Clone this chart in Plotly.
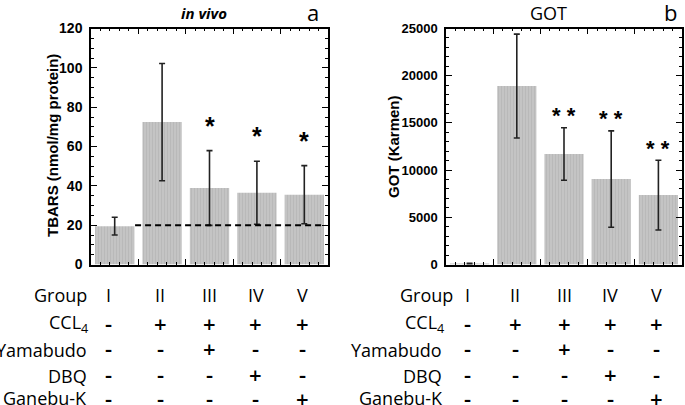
import plotly.graph_objects as go

# ---------------- data ----------------
groups = ["I", "II", "III", "IV", "V"]
tbars = [19.5, 72.4, 38.9, 36.5, 35.5]
tbars_err = [4.5, 29.8, 19.0, 16.0, 14.8]
tbars_sig = ["", "", "*", "*", "*"]
control_level = 20

got = [80, 18900, 11700, 9050, 7350]
got_err = [60, 5500, 2780, 5100, 3700]
got_sig = ["", "", "* *", "* *", "* *"]

row_labels = ["Group", "CCL<sub>4</sub>", "Yamabudo", "DBQ", "Ganebu-K"]
ccl4 = ["-", "+", "+", "+", "+"]
yamabudo = ["-", "-", "+", "-", "-"]
dbq = ["-", "-", "-", "+", "-"]
ganebu = ["-", "-", "-", "-", "+"]

W, H = 685, 405
xpos = list(range(len(groups)))

def px(x):
    return x / W

def py(y):
    return (H - y) / H

BAR = "#c4c4c4"
ERR = "#222222"

fig = go.Figure()

bar_style = dict(
    width=0.83,
    marker=dict(color=BAR, line=dict(width=0),
                pattern=dict(shape="|", fgcolor="#b6b6b6", bgcolor=BAR, size=3, solidity=0.25)),
    showlegend=False,
)

fig.add_trace(go.Bar(x=xpos, y=tbars, xaxis="x", yaxis="y",
                     error_y=dict(type="data", array=tbars_err, color=ERR, thickness=1.6, width=3),
                     **bar_style))
fig.add_trace(go.Bar(x=xpos, y=got, xaxis="x2", yaxis="y2",
                     error_y=dict(type="data", array=got_err, color=ERR, thickness=1.6, width=3),
                     **bar_style))

xdom1 = [px(91), px(328)]
xdom2 = [px(446), px(682)]
ydom = [py(264.5), py(28.5)]

xcommon = dict(range=[-0.5, 4.5], showline=True, linecolor="black", linewidth=1.5, mirror="ticks",
               ticks="inside", tickmode="array", tickvals=[0.5, 1.5, 2.5, 3.5], ticklen=6,
               tickwidth=1.2, tickcolor="black", showticklabels=False, showgrid=False, zeroline=False,
               minor=dict(ticks="inside", ticklen=3, tickmode="linear", tick0=-0.5, dtick=0.2,
                          tickcolor="black", tickwidth=1, showgrid=False),
               fixedrange=True, automargin=False)

ycommon = dict(showline=True, linecolor="black", linewidth=1.5, mirror="ticks", ticks="inside",
               ticklen=6, tickwidth=1.2, tickcolor="black", showgrid=False, zeroline=False,
               ticklabelstandoff=4, tickformat="d", fixedrange=True, automargin=False)

fig.update_layout(
    template="none",
    width=W, height=H, autosize=False,
    margin=dict(l=0, r=0, t=0, b=0, pad=0, autoexpand=False),
    paper_bgcolor="white", plot_bgcolor="white",
    bargap=0.17,
    showlegend=False,
    xaxis=dict(domain=xdom1, anchor="y", **xcommon),
    xaxis2=dict(domain=xdom2, anchor="y2", **xcommon),
    yaxis=dict(domain=ydom, anchor="x", range=[0, 120], tickmode="linear", tick0=0, dtick=20,
               tickfont=dict(family="Arial, Liberation Sans", size=14, color="black", weight="bold"),
               minor=dict(ticks="inside", ticklen=3, tickmode="linear", tick0=0, dtick=5,
                          tickcolor="black", tickwidth=1, showgrid=False),
               **ycommon),
    yaxis2=dict(domain=ydom, anchor="x2", range=[0, 25000], tickmode="linear", tick0=0, dtick=5000,
                tickfont=dict(family="Arial, Liberation Sans", size=13, color="black", weight="bold"),
                minor=dict(ticks="inside", ticklen=3, tickmode="linear", tick0=0, dtick=1000,
                           tickcolor="black", tickwidth=1, showgrid=False),
                **ycommon),
)

# dashed control line
fig.add_shape(type="line", xref="x", yref="y", x0=0.43, x1=4.44, y0=control_level, y1=control_level,
              line=dict(color="black", width=2, dash="6px,4px"))

ann = []
# significance marks
for i, s in enumerate(tbars_sig):
    if s:
        ann.append(dict(x=xpos[i], y=tbars[i] + tbars_err[i], xref="x", yref="y", text=s,
                        showarrow=False, xanchor="center", yanchor="middle", yshift=25,
                        font=dict(family="Arial, Liberation Sans", size=25, color="black", weight="bold")))
for i, s in enumerate(got_sig):
    if s:
        ann.append(dict(x=xpos[i], y=got[i] + got_err[i], xref="x2", yref="y2", text=s,
                        showarrow=False, xanchor="center", yanchor="middle", yshift=12,
                        font=dict(family="Arial, Liberation Sans", size=22, color="black", weight="bold")))

# axis titles
ann.append(dict(x=px(52), y=py(146), xref="paper", yref="paper", text="TBARS (nmol/mg protein)",
                textangle=-90, showarrow=False, xanchor="center", yanchor="middle",
                font=dict(family="Arial, Liberation Sans", size=15, color="black", weight="bold")))
ann.append(dict(x=px(393), y=py(147), xref="paper", yref="paper", text="GOT (Karmen)",
                textangle=-90, showarrow=False, xanchor="center", yanchor="middle",
                font=dict(family="Arial, Liberation Sans", size=15, color="black", weight="bold")))

# panel titles
ann.append(dict(x=px(204), y=py(12.5), xref="paper", yref="paper", text="in vivo", showarrow=False,
                xanchor="center", yanchor="middle",
                font=dict(family="Open Sans", size=15, color="black", weight="bold", style="italic")))
ann.append(dict(x=px(313), y=py(12), xref="paper", yref="paper", text="a", showarrow=False,
                xanchor="center", yanchor="middle", font=dict(family="Open Sans", size=22, color="black")))
ann.append(dict(x=px(548), y=py(13), xref="paper", yref="paper", text="GOT", showarrow=False,
                xanchor="center", yanchor="middle", font=dict(family="Open Sans", size=18, color="black")))
ann.append(dict(x=px(670), y=py(12), xref="paper", yref="paper", text="b", showarrow=False,
                xanchor="center", yanchor="middle", font=dict(family="Open Sans", size=22, color="black")))

# treatment tables
tfont = dict(family="Open Sans", size=18, color="black")
sfont = dict(family="Open Sans", size=22, color="black", weight=600)
rows = [groups, ccl4, yamabudo, dbq, ganebu]
label_y = [294.5, 323.5, 349.5, 375.5, 398]
symbol_y = [294.5, 322.5, 348, 374, 397.5]
cols_left = [108, 160, 209, 255.5, 302]
cols_right = [467, 515, 564.5, 610, 656.5]
label_right_left = [89, 90, 89, 89, 89]
label_right_right = [455, 446, 444, 444, 445]

for cols, lab_x in [(cols_left, label_right_left), (cols_right, label_right_right)]:
    for r, (lab, vals) in enumerate(zip(row_labels, rows)):
        ann.append(dict(x=px(lab_x[r]), y=py(label_y[r]), xref="paper", yref="paper", text=lab,
                        showarrow=False, xanchor="right", yanchor="middle", font=tfont))
        for c, v in enumerate(vals):
            ann.append(dict(x=px(cols[c]), y=py(symbol_y[r]), xref="paper", yref="paper", text=v,
                            showarrow=False, xanchor="center", yanchor="middle",
                            font=tfont if r == 0 else sfont))

fig.update_layout(annotations=ann)
fig.write_html("out.html", config={"displayModeBar": False},
               post_script="document.body.style.margin='0';document.body.style.overflow='hidden';")
